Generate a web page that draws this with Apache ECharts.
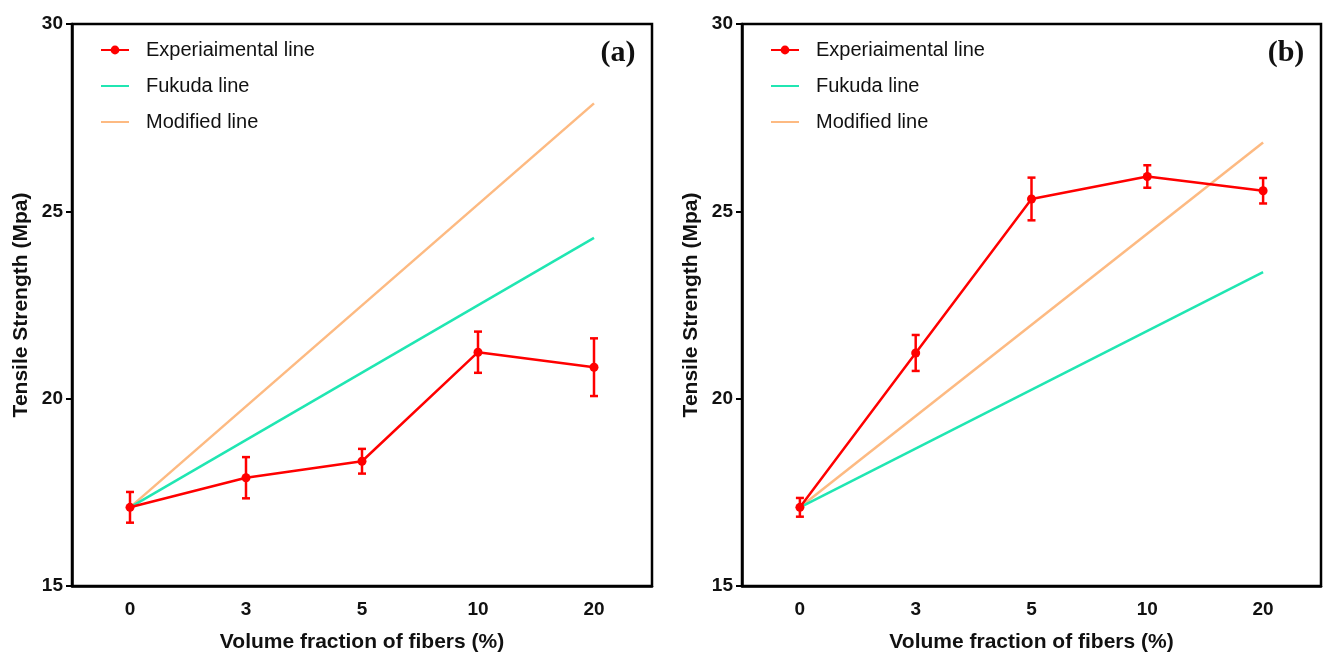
<!DOCTYPE html>
<html>
<head>
<meta charset="utf-8">
<script src="https://cdn.jsdelivr.net/npm/echarts@6/dist/echarts.min.js"></script>
<style>
html,body{margin:0;padding:0;background:#fff;}
#chart{width:1325px;height:658px;}
</style>
</head>
<body>
<div id="chart"></div>
<script>
// ---- data ----
const categories = ['0', '3', '5', '10', '20'];
const yTicks = [15, 20, 25, 30];

const expA = [17.10, 17.89, 18.33, 21.24, 20.84];
const errA = [0.41, 0.55, 0.33, 0.55, 0.77];
const fukudaA = [17.10, null, null, null, 24.29];
const modifiedA = [17.10, null, null, null, 27.88];

const expB = [17.10, 21.22, 25.33, 25.93, 25.55];
const errB = [0.25, 0.48, 0.57, 0.30, 0.34];
const fukudaB = [17.10, null, null, null, 23.38];
const modifiedB = [17.10, null, null, null, 26.84];

const seriesNames = ['Experiaimental line', 'Fukuda line', 'Modified line'];
const panelLabels = ['(a)', '(b)'];

// ---- styles ----
const RED = '#FF0000', GREEN = '#20E6B2', ORANGE = '#FDBA82';
const FONT = 'Arial, "Liberation Sans", sans-serif';

const chart = echarts.init(document.getElementById('chart'));

function errData(vals, errs) {
  return vals.map((v, i) => [i, v - errs[i], v + errs[i]]);
}
function errorRender(params, api) {
  const x = api.value(0);
  const lo = api.coord([x, api.value(1)]);
  const hi = api.coord([x, api.value(2)]);
  const cap = 4;
  const style = { stroke: RED, lineWidth: 2.5 };
  return {
    type: 'group',
    children: [
      { type: 'line', shape: { x1: lo[0], y1: lo[1], x2: hi[0], y2: hi[1] }, style },
      { type: 'line', shape: { x1: lo[0] - cap, y1: lo[1], x2: lo[0] + cap, y2: lo[1] }, style },
      { type: 'line', shape: { x1: hi[0] - cap, y1: hi[1], x2: hi[0] + cap, y2: hi[1] }, style }
    ]
  };
}

const grids = [
  { left: 72, top: 24, width: 580, height: 567 },
  { left: 742, top: 24, width: 579, height: 567 }
];

function xAxisFor(i) {
  return {
    type: 'category', gridIndex: i, data: categories, boundaryGap: true,
    name: 'Volume fraction of fibers (%)', nameLocation: 'middle', nameGap: 46,
    nameTextStyle: { fontFamily: FONT, fontWeight: 'bold', fontSize: 21, color: '#111' },
    axisLine: { lineStyle: { color: '#000', width: 2.5 } },
    axisTick: { alignWithLabel: true, length: 6, lineStyle: { color: '#000', width: 2 } },
    axisLabel: { fontFamily: FONT, fontWeight: 'bold', fontSize: 19, color: '#111', margin: 14 },
    splitLine: { show: false }
  };
}
function yAxisFor(i) {
  return {
    type: 'value', gridIndex: i, min: 15, max: 30, interval: 5,
    name: 'Tensile Strength (Mpa)', nameLocation: 'middle', nameGap: 40,
    nameTextStyle: { fontFamily: FONT, fontWeight: 'bold', fontSize: 21, color: '#111' },
    axisLine: { show: true, lineStyle: { color: '#000', width: 2.5 } },
    axisTick: { show: true, length: 6, lineStyle: { color: '#000', width: 2 } },
    axisLabel: { fontFamily: FONT, fontWeight: 'bold', fontSize: 19, color: '#111', margin: 9,
      formatter: v => yTicks.includes(v) ? String(v) : '' },
    splitLine: { show: false }
  };
}

function panelSeries(i, exp, err, fuk, mod) {
  return [
    { name: seriesNames[2], type: 'line', xAxisIndex: i, yAxisIndex: i, data: mod, connectNulls: true,
      showSymbol: false, symbol: 'none', lineStyle: { color: ORANGE, width: 2.5 }, itemStyle: { color: ORANGE }, z: 2 },
    { name: seriesNames[1], type: 'line', xAxisIndex: i, yAxisIndex: i, data: fuk, connectNulls: true,
      showSymbol: false, symbol: 'none', lineStyle: { color: GREEN, width: 2.5 }, itemStyle: { color: GREEN }, z: 3 },
    { name: 'err' + i, type: 'custom', xAxisIndex: i, yAxisIndex: i, data: errData(exp, err),
      renderItem: errorRender, z: 4, silent: true },
    { name: seriesNames[0], type: 'line', xAxisIndex: i, yAxisIndex: i, data: exp,
      symbol: 'circle', symbolSize: 9, lineStyle: { color: RED, width: 2.5 }, itemStyle: { color: RED }, z: 5 }
  ];
}

function legendFor(left) {
  return {
    left: left, top: 35, orient: 'vertical', itemWidth: 28, itemHeight: 11, itemGap: 16,
    data: [
      { name: seriesNames[0] },
      { name: seriesNames[1], itemStyle: { opacity: 0 } },
      { name: seriesNames[2], itemStyle: { opacity: 0 } }
    ],
    textStyle: { fontFamily: FONT, fontSize: 20, color: '#111', padding: [0, 0, 0, 12] }
  };
}

const option = {
  backgroundColor: '#fff',
  animation: false,
  grid: grids.map(g => Object.assign({ show: true, borderColor: '#000', borderWidth: 2.5, backgroundColor: 'transparent' }, g)),
  xAxis: [xAxisFor(0), xAxisFor(1)],
  yAxis: [yAxisFor(0), yAxisFor(1)],
  legend: [legendFor(95), legendFor(765)],
  title: [
    { text: panelLabels[0], left: 613, top: 33, textAlign: 'center',
      textStyle: { fontFamily: '"Times New Roman", "Liberation Serif", serif', fontWeight: 'bold', fontSize: 30, color: '#111' } },
    { text: panelLabels[1], left: 1281, top: 33, textAlign: 'center',
      textStyle: { fontFamily: '"Times New Roman", "Liberation Serif", serif', fontWeight: 'bold', fontSize: 30, color: '#111' } }
  ],
  series: [].concat(
    panelSeries(0, expA, errA, fukudaA, modifiedA),
    panelSeries(1, expB, errB, fukudaB, modifiedB)
  )
};
chart.setOption(option);
</script>
</body>
</html>
